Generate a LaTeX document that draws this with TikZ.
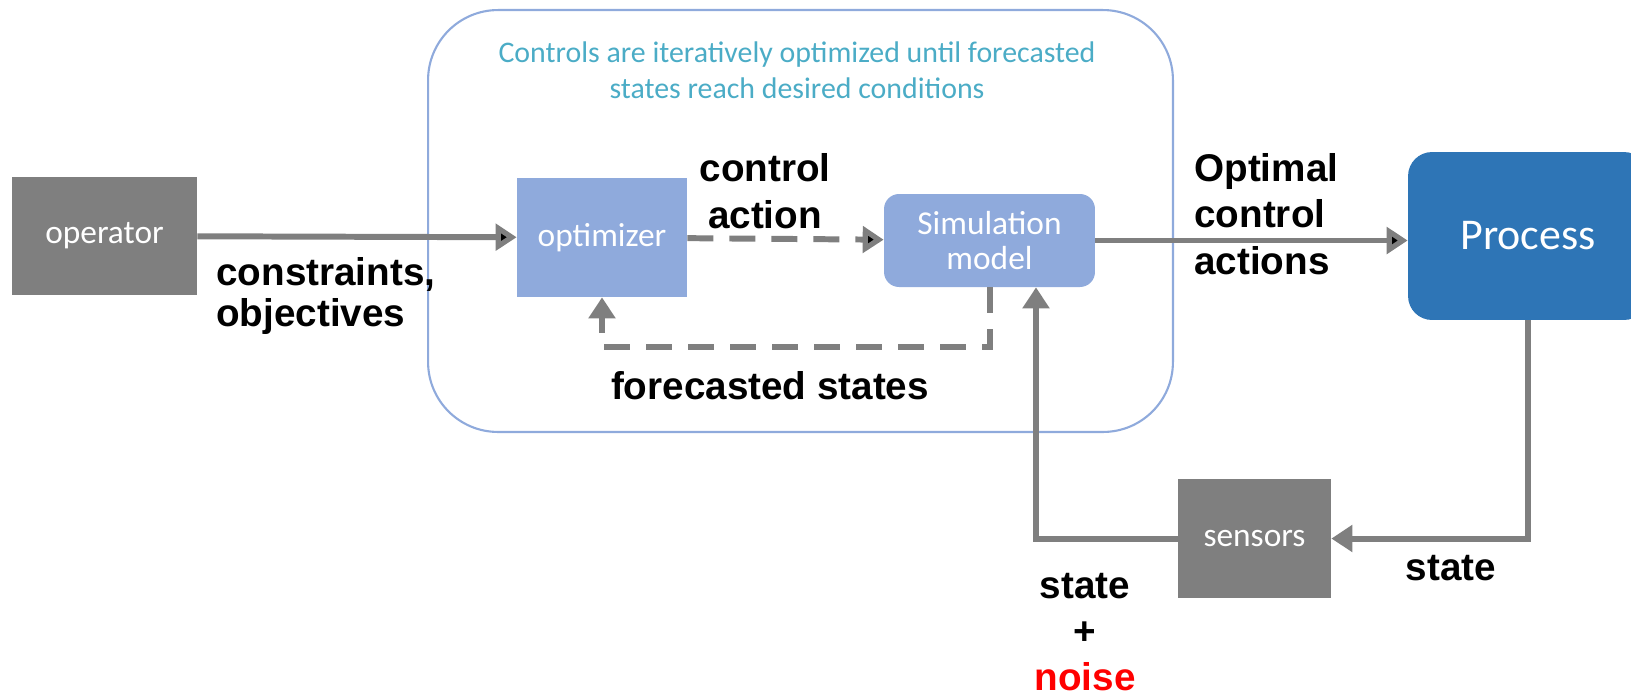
\documentclass[tikz,border=0pt]{standalone}
\usepackage{fontspec}
\setmainfont{Liberation Sans}
\newfontfamily\carlito{Carlito}
\usetikzlibrary{arrows.meta}
\definecolor{boxgray}{HTML}{7F7F7F}
\definecolor{lightblue}{HTML}{8FAADC}
\definecolor{procblue}{HTML}{2E75B6}
\definecolor{notecyan}{HTML}{4BACC6}
\begin{document}
\begin{tikzpicture}[x=0.02cm,y=-0.02cm,
  blk/.style={inner sep=0pt,text=white,font=\carlito\fontsize{19}{20}\selectfont,align=center},
  lbl/.style={inner sep=0pt,font=\bfseries\fontsize{22}{26.4}\selectfont},
  flow/.style={draw=boxgray,line width=3.4pt,-{Triangle[length=0.42cm,width=0.52cm]}},
  fcast/.style={flow,dash pattern=on 0.52cm off 0.32cm}]
\useasboundingbox (0,0) rectangle (1631,694);
% optimization loop
\node[draw=lightblue,line width=1.2pt,rounded corners=1.4cm,minimum width=14.9cm,minimum height=8.44cm] (loop) at (800.5,221) {};
\node[inner sep=0pt,align=center,text=notecyan,font=\carlito\fontsize{17}{20.4}\selectfont] (note) at (797,70) {Controls are iteratively optimized until forecasted\\states reach desired conditions};

% blocks
\node[blk,fill=boxgray,minimum width=3.7cm,minimum height=2.36cm] (op) at (104.5,236) {operator};
\node[blk,fill=lightblue,minimum width=3.4cm,minimum height=2.38cm] (opt) at (602,237.5) {optimizer};
\node[blk,fill=lightblue,rounded corners=0.3cm,minimum width=4.22cm,minimum height=1.86cm] (sim) at (989.5,240.5) {Simulation\\model};
\node[blk,fill=procblue,rounded corners=0.48cm,minimum width=4.8cm,minimum height=3.36cm,font=\carlito\fontsize{25}{28}\selectfont] (proc) at (1528,236) {Process};
\node[blk,fill=boxgray,minimum width=3.06cm,minimum height=2.38cm] (sens) at (1254.5,538.5) {sensors};

% labels
\node[lbl,anchor=west,align=left,font=\bfseries\fontsize{22}{23.5}\selectfont] (co) at (216,296) {constraints,\\objectives};
\node[lbl,align=center] (ca) at (765,191) {control\\action};
\node[lbl] (fs) at (770,386) {forecasted states};
\node[lbl,anchor=west,align=left] (oca) at (1194,214) {Optimal\\control\\actions};
\node[lbl] (st) at (1451,568) {state};
\node[lbl,align=center] (stn) at (1085,632) {state\\+\\\textcolor{red}{noise}};

% forward path
\path[flow]
(op) edge (opt)
(sim) edge (sim -| proc.west);
\path[fcast]
(opt) edge (sim);

% forecast loop
\draw[fcast] (sim.south) -- ++(0,60) -| (opt.south);

% measurement path
\draw[flow] (proc.south) |- (sens.east);
\draw[flow] (sens.west) -| ([xshift=0.93cm]sim.south);

\end{tikzpicture}
\end{document}
